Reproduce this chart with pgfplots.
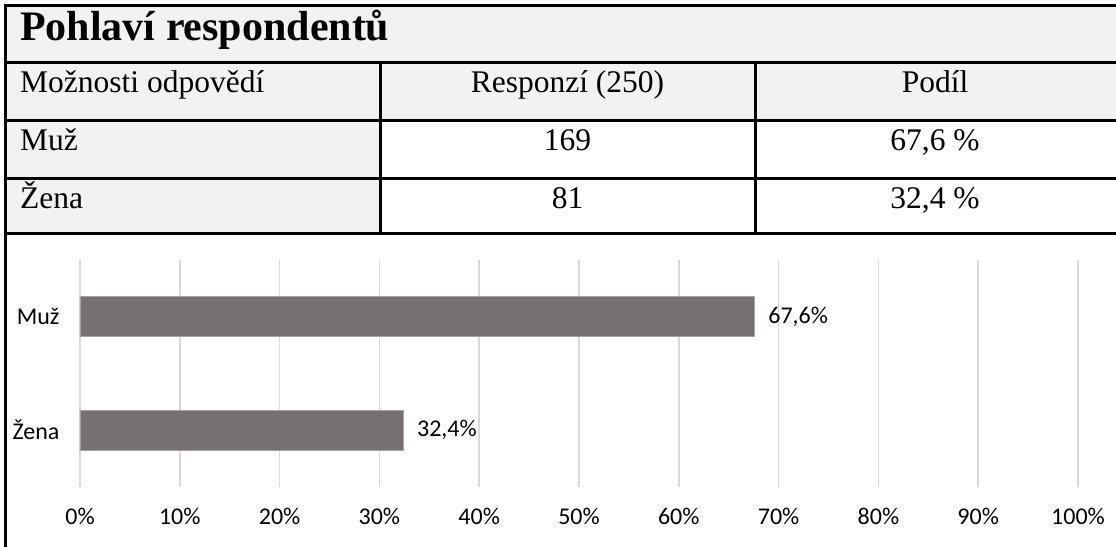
\documentclass[border=0pt]{standalone}
\usepackage{fontspec}
\setmainfont{Liberation Serif}
\newfontfamily\calibri{Carlito}
\usepackage{pgfplots}
\pgfplotsset{compat=1.18}
\definecolor{cellgray}{HTML}{F2F2F2}
\definecolor{bargray}{HTML}{767171}
\definecolor{baredge}{HTML}{A6A3A3}
\definecolor{gridgray}{HTML}{D9D9D9}

\begin{document}
\begin{tikzpicture}[x=1pt,y=1pt]
\useasboundingbox (0,0) rectangle (1116,546);
\fill[white] (0,0) rectangle (1116,546);
% table shading
\fill[cellgray] (5,540) rectangle (1116,425);
\fill[cellgray] (5,425) rectangle (380,312);
% table rules
\begin{scope}[line width=3pt, line cap=rect]
  \draw (5,0) -- (5,540) -- (1116,540);
  \draw (5,483) -- (1116,483);
  \draw (5,425) -- (1116,425);
  \draw (5,367) -- (1116,367);
  \draw (5,312) -- (1116,312);
  \draw (380,483) -- (380,312);
  \draw (755,483) -- (755,312);
\end{scope}
% table text
\node[anchor=base west, inner sep=0, font=\fontsize{42}{44}\selectfont\bfseries] at (20,505) {Pohlaví respondentů};
\begin{scope}[every node/.style={inner sep=0, font=\fontsize{31.5}{34}\selectfont}]
  \node[anchor=base west] at (20,453) {Možnosti odpovědí};
  \node[anchor=base west] at (20,395) {Muž};
  \node[anchor=base west] at (20,337) {Žena};
  \node[anchor=base] at (567.5,453) {Responzí (250)};
  \node[anchor=base] at (567.5,395) {169};
  \node[anchor=base] at (567.5,337) {81};
  \node[anchor=base] at (935,453) {Podíl};
  \node[anchor=base] at (935,395) {67,6 \%};
  \node[anchor=base] at (935,337) {32,4 \%};
\end{scope}

\begin{axis}[
  at={(80pt,59pt)}, anchor=south west,
  scale only axis,
  width=998pt, height=227pt,
  xbar, bar width=40pt,
  xmin=0, xmax=100,
  ymin=-0.5, ymax=1.5,
  xtick={0,10,...,100},
  xticklabels={0\%,10\%,20\%,30\%,40\%,50\%,60\%,70\%,80\%,90\%,100\%},
  ytick={0,1},
  yticklabels={Žena,Muž},
  axis line style={draw=none},
  major tick length=0pt,
  xmajorgrids,
  grid style={gridgray, line width=1.5pt},
  tick label style={font=\calibri\fontsize{24}{27}\selectfont, text=black},
  xticklabel style={yshift=-18pt},
  yticklabel style={xshift=-17pt},
  /pgf/number format/assume math mode=true,
  nodes near coords={\pgfmathprintnumber[fixed,precision=1,fixed zerofill,use comma]{\pgfplotspointmeta}\%},
  every node near coord/.append style={font=\calibri\fontsize{24}{27}\selectfont, text=black, xshift=10pt},
]
\addplot[fill=bargray, draw=baredge, line width=0.8pt] coordinates {(67.6,1) (32.4,0)};
\end{axis}
\end{tikzpicture}
\end{document}
